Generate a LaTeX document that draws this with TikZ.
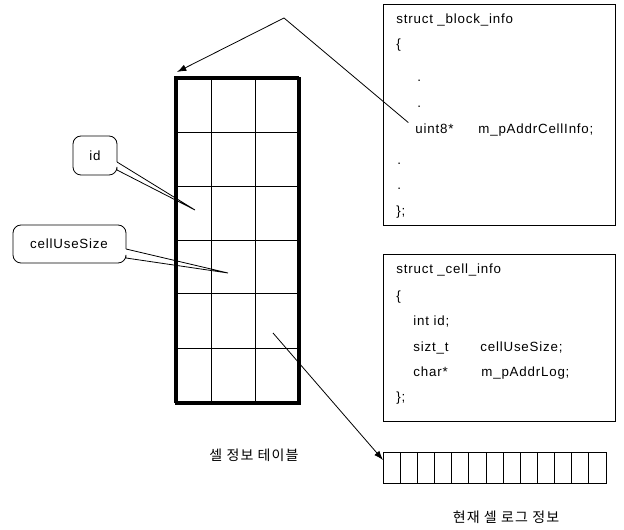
\documentclass[tikz,border=0pt]{standalone}
\usepackage{fontspec}
\setmainfont{Liberation Sans}[LetterSpace=6]
\newfontfamily\kr{Noto Sans CJK KR}[LetterSpace=8]
\usetikzlibrary{arrows.meta}
\begin{document}
\begin{tikzpicture}[x=0.75pt,y=-0.75pt,line width=0.6pt,
  code/.style={anchor=base west,inner sep=0pt,font=\fontsize{10}{12}\selectfont},
  box/.style={draw,line width=0.7pt,inner sep=0pt},
  thin/.style={line width=0.6pt},
  thick/.style={line width=2.2pt},
  arr/.style={-{Latex[length=7pt,width=5pt]},line width=0.6pt},
  lbl/.style={inner sep=0pt,font=\fontsize{10}{12}\selectfont},
  krlbl/.style={inner sep=0pt,font=\kr\fontsize{10.5}{12}\selectfont}]
\useasboundingbox (0,0) rectangle (624,530);

% ---- cell info table ----
\node[box,thick,minimum width=123*0.75pt,minimum height=325*0.75pt,anchor=north west] (tbl) at (175,77) {};
\foreach \cx in {211,255}{\draw[thin] (\cx,77) -- (\cx,402);}
\foreach \ry in {132,186,240,293,348}{\draw[thin] (175,\ry) -- (298,\ry);}
\draw[thick] (175,77) rectangle (298,402);

% ---- block info struct ----
\node[box,minimum width=232*0.75pt,minimum height=221*0.75pt,anchor=north west] (blk) at (383,4) {};
\node[code] (b1) at (396,24) {struct \_block\_info};
\node[code] (b2) at (396,49) {\{};
\node[code] (b3) at (417,82) {.};
\node[code] (b4) at (417,108) {.};
\node[code] (u8) at (415,134) {uint8*};
\node[code] (b5) at (478,134) {m\_pAddrCellInfo;};
\node[code] (b6) at (397,165) {.};
\node[code] (b7) at (397,190) {.};
\node[code] (b8) at (396,216) {\};};

% ---- cell info struct ----
\node[box,minimum width=232*0.75pt,minimum height=167*0.75pt,anchor=north west] (cel) at (383,254) {};
\node[code] (c1) at (396,274) {struct \_cell\_info};
\node[code] (c2) at (396,301) {\{};
\node[code] (c3) at (413,326) {int id;};
\node[code] (c4) at (413,352) {sizt\_t};
\node[code] (c5) at (480,352) {cellUseSize;};
\node[code] (c6) at (413,377) {char*};
\node[code] (c7) at (481,377) {m\_pAddrLog;};
\node[code] (c8) at (396,402) {\};};

% ---- log array ----
\node[box,minimum width=223*0.75pt,minimum height=31*0.75pt,anchor=north west] (log) at (383,452) {};
\foreach \i in {1,...,12}{\draw[thin] ({383+\i*223/13},452) -- ({383+\i*223/13},483);}

% ---- labels ----
\node[krlbl] (tbltitle) at (254,455) {셀 정보 테이블};
\node[krlbl] (logtitle) at (506,517) {현재 셀 로그 정보};

% ---- connectors ----
\coordinate (apex) at (284,18);
\coordinate (tblcorner) at (177,72);
\draw[arr] (apex) -- (tblcorner);
\draw[thin] (apex) -- ([xshift=-5pt,yshift=5pt]u8.west);
\coordinate (cellpt) at (273,333);
\coordinate (logpt) at (383,460);
\draw[arr] (cellpt) -- (logpt);

% ---- callouts ----
\node[lbl] (idl) at (95,156) {id};
\coordinate (idtip) at (195,210);
\draw[thin] (117,162) -- (idtip) -- (117,170);
\draw[thin,rounded corners=6pt] (117,162) -- (117,136) -- (73,136) -- (73,175) -- (117,175) -- (117,170);

\node[lbl] (cul) at (69,244) {cellUseSize};
\coordinate (cutip) at (228,273);
\draw[thin] (126,249) -- (cutip) -- (126,258);
\draw[thin,rounded corners=6pt] (126,249) -- (126,225) -- (13,225) -- (13,263) -- (126,263) -- (126,258);
\end{tikzpicture}
\end{document}
